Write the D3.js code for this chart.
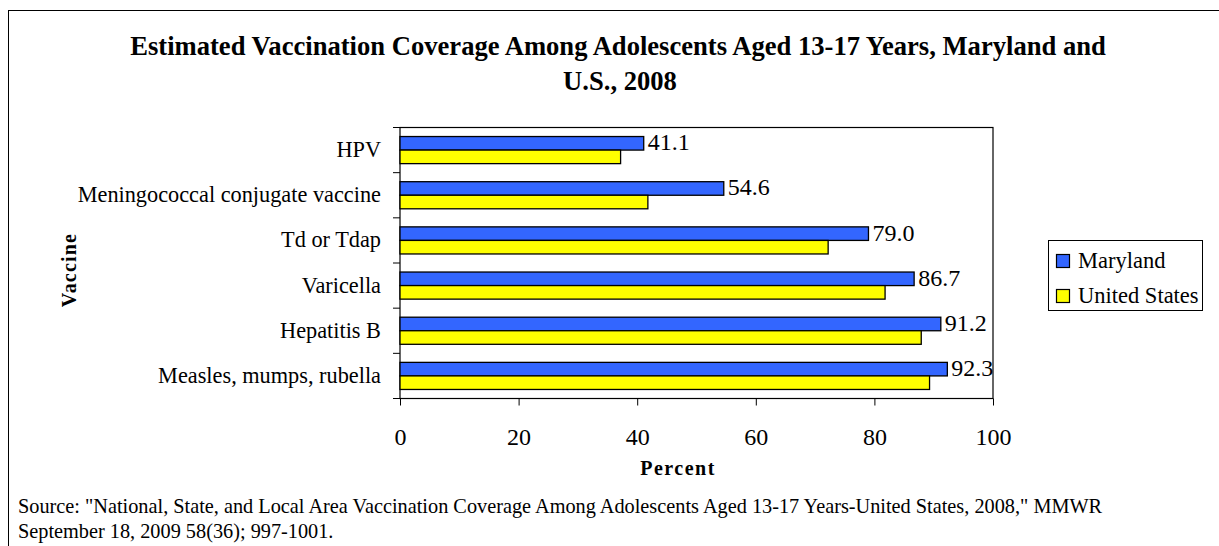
<!DOCTYPE html>
<html><head><meta charset="utf-8">
<script src="https://cdn.jsdelivr.net/npm/d3@7"></script>
<style>body{margin:0;background:#fff}svg{display:block}text{font-family:"Liberation Serif","Times New Roman",serif;fill:#000}</style>
</head><body>
<svg id="c" width="1219" height="546"></svg>
<script>
const categories = ["HPV","Meningococcal conjugate vaccine","Td or Tdap","Varicella","Hepatitis B","Measles, mumps, rubella"];
const maryland = [41.1, 54.6, 79.0, 86.7, 91.2, 92.3];
const unitedStates = [37.2, 41.8, 72.2, 81.8, 87.9, 89.3];
const seriesNames = ["Maryland","United States"];
const seriesColors = ["#3366FF","#FFFF00"];
const xTicks = [0,20,40,60,80,100];

const svg = d3.select("#c");
svg.append("rect").attr("x",8.5).attr("y",10.5).attr("width",1220).attr("height",540)
  .attr("fill","#fff").attr("stroke","#000").attr("stroke-width",1);

const L=400,R=993,T=127.5,B=398.5;
const x = d3.scaleLinear().domain([0,100]).range([L,R]);
const y = d3.scaleBand().domain(categories).range([T,B]).paddingInner(0.4).paddingOuter(0.2);
const ys = d3.scaleBand().domain(seriesNames).range([0,y.bandwidth()]);

// title
svg.append("text").attr("x",618).attr("y",55).attr("text-anchor","middle")
  .attr("font-size",26.6).attr("font-weight","bold")
  .text("Estimated Vaccination Coverage Among Adolescents Aged 13-17 Years, Maryland and");
svg.append("text").attr("x",620).attr("y",90).attr("text-anchor","middle")
  .attr("font-size",26.6).attr("font-weight","bold").text("U.S., 2008");

// plot frame
svg.append("rect").attr("x",L).attr("y",T).attr("width",R-L).attr("height",B-T)
  .attr("fill","none").attr("stroke","#000").attr("stroke-width",1.2);

const data = [maryland, unitedStates];
data.forEach((vals,si)=>{
  svg.append("g").selectAll("rect").data(vals).join("rect")
    .attr("x",x(0)).attr("y",(d,i)=>y(categories[i])+ys(seriesNames[si]))
    .attr("width",d=>x(d)-x(0)).attr("height",ys.bandwidth())
    .attr("fill",seriesColors[si]).attr("stroke","#000").attr("stroke-width",1.3);
});
// data labels
svg.append("g").selectAll("text").data(maryland).join("text")
  .attr("x",d=>x(d)+4).attr("y",(d,i)=>y(categories[i])+ys("Maryland")+ys.bandwidth()/2+7)
  .attr("font-size",24).text(d=>d.toFixed(1));

// y axis
const yTickPos = d3.range(categories.length+1).map(i=>T+i*(B-T)/categories.length);
svg.append("g").selectAll("line").data(yTickPos).join("line")
  .attr("x1",L-7).attr("x2",L).attr("y1",d=>d).attr("y2",d=>d).attr("stroke","#000");
svg.append("g").selectAll("text").data(categories).join("text")
  .attr("x",L-19).attr("y",d=>y(d)+y.bandwidth()/2+7).attr("text-anchor","end")
  .attr("font-size",22.3).text(d=>d);

// x axis
const xa = svg.append("g").attr("transform",`translate(0,${B})`)
  .call(d3.axisBottom(x).tickValues(xTicks).tickSize(7).tickPadding(22).tickFormat(d3.format("d")));
xa.select(".domain").remove();
xa.selectAll("text").attr("font-size",24).style("font-family",'"Liberation Serif",serif');
xa.selectAll("line").attr("stroke","#000");

svg.append("text").attr("x",678).attr("y",475).attr("text-anchor","middle")
  .attr("font-size",20).attr("font-weight","bold").attr("letter-spacing",1.5).text("Percent");
svg.append("text").attr("transform","translate(76,270) rotate(-90)").attr("text-anchor","middle")
  .attr("font-size",20).attr("font-weight","bold").attr("letter-spacing",1.2).text("Vaccine");

// legend
svg.append("rect").attr("x",1048.5).attr("y",240.5).attr("width",154).attr("height",70)
  .attr("fill","#fff").attr("stroke","#000");
seriesNames.forEach((n,i)=>{
  const yy = 261+i*35;
  svg.append("rect").attr("x",1056.5).attr("y",yy-6.5).attr("width",13).attr("height",13)
    .attr("fill",seriesColors[i]).attr("stroke","#000").attr("stroke-width",1.2);
  svg.append("text").attr("x",1078).attr("y",yy+7).attr("font-size",22.5).text(n);
});

// source
svg.append("text").attr("x",18).attr("y",513).attr("font-size",20.3)
  .text('Source: "National, State, and Local Area Vaccination Coverage Among Adolescents Aged 13-17 Years-United States, 2008," MMWR');
svg.append("text").attr("x",18).attr("y",538).attr("font-size",20.3)
  .text('September 18, 2009 58(36); 997-1001.');
</script>
</body></html>
